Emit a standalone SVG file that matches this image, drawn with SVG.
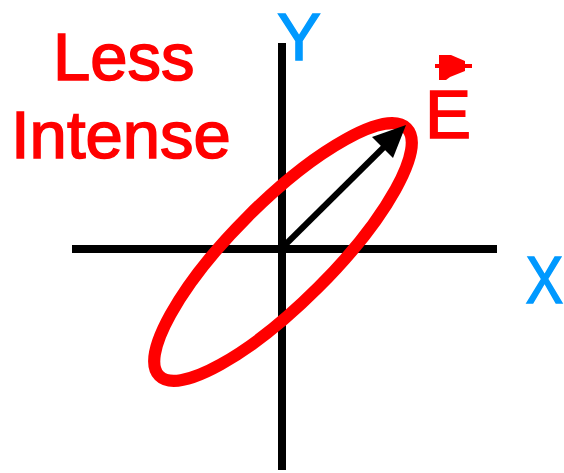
<svg xmlns="http://www.w3.org/2000/svg" width="564" height="473" viewBox="0 0 564 473">
<style>
.red{fill:#ff0000;stroke:#ff0000;stroke-width:1.6;font-family:"Liberation Sans",Arial,sans-serif;}
.blue{fill:#0099ff;stroke:#0099ff;stroke-width:1.4;font-family:"Liberation Sans",Arial,sans-serif;}
.axis{stroke:#000;stroke-width:8;shape-rendering:crispEdges;}
</style>
<rect width="564" height="473" fill="#fff"/>
<g id="connectors">
<line class="axis" x1="282" y1="43" x2="282" y2="470"/>
<line class="axis" x1="72" y1="249" x2="497" y2="249"/>
</g>
<g id="ellipse">
<ellipse cx="283" cy="252" rx="175" ry="50" transform="rotate(-45 283 252)" fill="none" stroke="#ff0000" stroke-width="12"/>
</g>
<g id="vector">
<line x1="284" y1="246" x2="385" y2="146" stroke="#000" stroke-width="6"/>
<polygon points="406,125 372,137 393,158" fill="#000"/>
</g>
<g id="label-less-intense">
<text class="red" x="53" y="80" font-size="67">Less</text>
<text class="red" x="11" y="158" font-size="67">Intense</text>
</g>
<g id="label-E">
<line x1="435" y1="66" x2="472" y2="66" stroke="#ff0000" stroke-width="4"/>
<polygon points="439,55 451,55 465,61 465,71 450,77 446,80 439,80" fill="#ff0000"/>
<text class="red" x="425" y="138" font-size="69">E</text>
</g>
<g id="label-Y">
<text class="blue" x="299" y="60" text-anchor="middle" font-size="66">Y</text>
</g>
<g id="label-X">
<text class="blue" transform="translate(544.5 303) scale(1 1.2)" text-anchor="middle" font-size="56">X</text>
</g>
</svg>
